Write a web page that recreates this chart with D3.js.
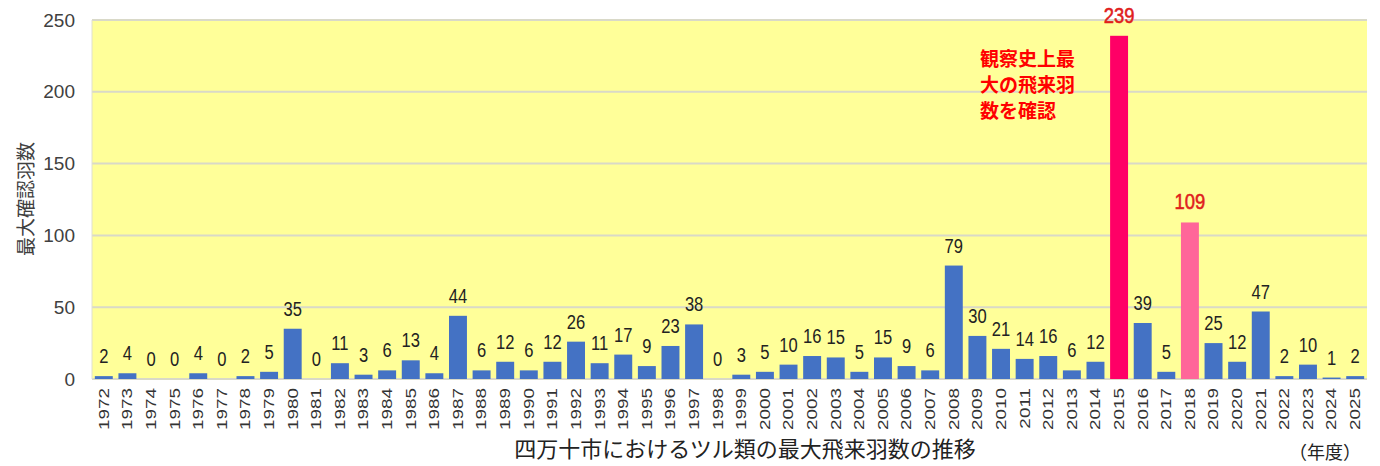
<!DOCTYPE html>
<html>
<head>
<meta charset="utf-8">
<script src="https://cdn.jsdelivr.net/npm/d3@7"></script>
<style>
  body { margin: 0; background: #fff; }
  svg text { font-family: "Liberation Sans", "Noto Sans CJK JP", sans-serif; }
</style>
</head>
<body>
<svg id="chart" width="1380" height="466"></svg>
<script>
var years = d3.range(1972, 2026).map(String);
var counts = [2, 4, 0, 0, 4, 0, 2, 5, 35, 0,
              11, 3, 6, 13, 4, 44, 6, 12, 6, 12,
              26, 11, 17, 9, 23, 38, 0, 3, 5, 10,
              16, 15, 5, 15, 9, 6, 79, 30, 21, 14,
              16, 6, 12, 239, 39, 5, 109, 25, 12, 47,
              2, 10, 1, 2];
var yTicks = [0, 50, 100, 150, 200, 250];
var highlight = { "2015": "#ff0066", "2018": "#ff6699" };
var redLabels = ["2015", "2018"];
var note = ["観察史上最", "大の飛来羽", "数を確認"];

var margin = { left: 92, right: 13, top: 20, bottom: 87 };
var width = 1380, height = 466;

var svg = d3.select("#chart");
var data = years.map(function (y, i) { return { year: y, value: counts[i] }; });

var x = d3.scaleBand()
    .domain(years)
    .range([margin.left, width - margin.right])
    .paddingInner(0.24)
    .paddingOuter(0.12);

var y = d3.scaleLinear()
    .domain([0, 250])
    .range([height - margin.bottom, margin.top]);

// plot background
svg.append("rect")
    .attr("x", margin.left)
    .attr("y", margin.top)
    .attr("width", width - margin.left - margin.right)
    .attr("height", height - margin.top - margin.bottom)
    .attr("fill", "#ffff99");

// grid lines
svg.append("g")
    .selectAll("line")
    .data(yTicks)
    .enter().append("line")
    .attr("x1", margin.left)
    .attr("x2", width - margin.right)
    .attr("y1", function (d) { return y(d); })
    .attr("y2", function (d) { return y(d); })
    .attr("stroke", "#d9d9c8")
    .attr("stroke-width", 2);

// left edge
svg.append("line")
    .attr("x1", margin.left).attr("x2", margin.left)
    .attr("y1", margin.top).attr("y2", y(0))
    .attr("stroke", "#e0e0d0").attr("stroke-width", 1);

// y axis
var yAxis = svg.append("g")
    .attr("transform", "translate(" + margin.left + ",0)")
    .call(d3.axisLeft(y).tickValues(yTicks).tickSize(0).tickPadding(17));
yAxis.select(".domain").remove();
yAxis.selectAll("text")
    .attr("font-size", 19)
    .attr("fill", "#404040")
    .style("font-family", "'Liberation Sans', sans-serif");

// bars
svg.append("g")
    .selectAll("rect")
    .data(data)
    .enter().append("rect")
    .attr("x", function (d) { return x(d.year); })
    .attr("width", x.bandwidth())
    .attr("y", function (d) { return y(d.value); })
    .attr("height", function (d) { return y(0) - y(d.value); })
    .attr("fill", function (d) { return highlight[d.year] || "#4472c4"; });

// value labels (tall, slightly narrow digits)
svg.append("g")
    .selectAll("text")
    .data(data)
    .enter().append("text")
    .attr("transform", function (d) {
      return "translate(" + (x(d.year) + x.bandwidth() / 2) + "," + (y(d.value) - 13) + ") scale(0.92,1.08)";
    })
    .attr("text-anchor", "middle")
    .attr("font-size", function (d) { return redLabels.indexOf(d.year) >= 0 ? 20 : 18; })
    .attr("fill", function (d) { return redLabels.indexOf(d.year) >= 0 ? "#e0201c" : "#222"; })
    .attr("stroke", function (d) { return redLabels.indexOf(d.year) >= 0 ? "#e0201c" : "none"; })
    .attr("stroke-width", 0.5)
    .text(function (d) { return d.value; });

// x axis labels (rotated)
var xAxis = svg.append("g")
    .attr("transform", "translate(0," + y(0) + ")")
    .call(d3.axisBottom(x).tickSize(0).tickPadding(0));
xAxis.select(".domain").remove();
xAxis.selectAll("text")
    .attr("font-size", 14)
    .attr("fill", "#333")
    .attr("text-anchor", "end")
    .attr("dy", "0.35em")
    .attr("transform", "translate(0,9) rotate(-90) scale(1.35,1)")
    .attr("x", 0)
    .attr("y", 0);

// annotation
svg.append("g")
    .selectAll("text")
    .data(note)
    .enter().append("text")
    .attr("x", 980)
    .attr("y", function (d, i) { return 66 + i * 26; })
    .attr("font-size", 19)
    .attr("font-weight", "bold")
    .attr("fill", "#ff0000")
    .style("font-family", "'Noto Sans CJK JP', sans-serif")
    .text(function (d) { return d; });

// y axis title
svg.append("text")
    .attr("transform", "translate(33,199) rotate(-90)")
    .attr("text-anchor", "middle")
    .attr("font-size", 19)
    .attr("fill", "#404040")
    .style("font-family", "'Noto Sans CJK JP', sans-serif")
    .text("最大確認羽数");

// chart title
svg.append("text")
    .attr("x", 745)
    .attr("y", 457)
    .attr("text-anchor", "middle")
    .attr("font-size", 22)
    .attr("fill", "#222")
    .style("font-family", "'Noto Sans CJK JP', sans-serif")
    .text("四万十市におけるツル類の最大飛来羽数の推移");

// unit
svg.append("text")
    .attr("x", 1325)
    .attr("y", 459)
    .attr("text-anchor", "middle")
    .attr("font-size", 18)
    .attr("fill", "#222")
    .style("font-family", "'Noto Sans CJK JP', sans-serif")
    .text("（年度）");
</script>
</body>
</html>
